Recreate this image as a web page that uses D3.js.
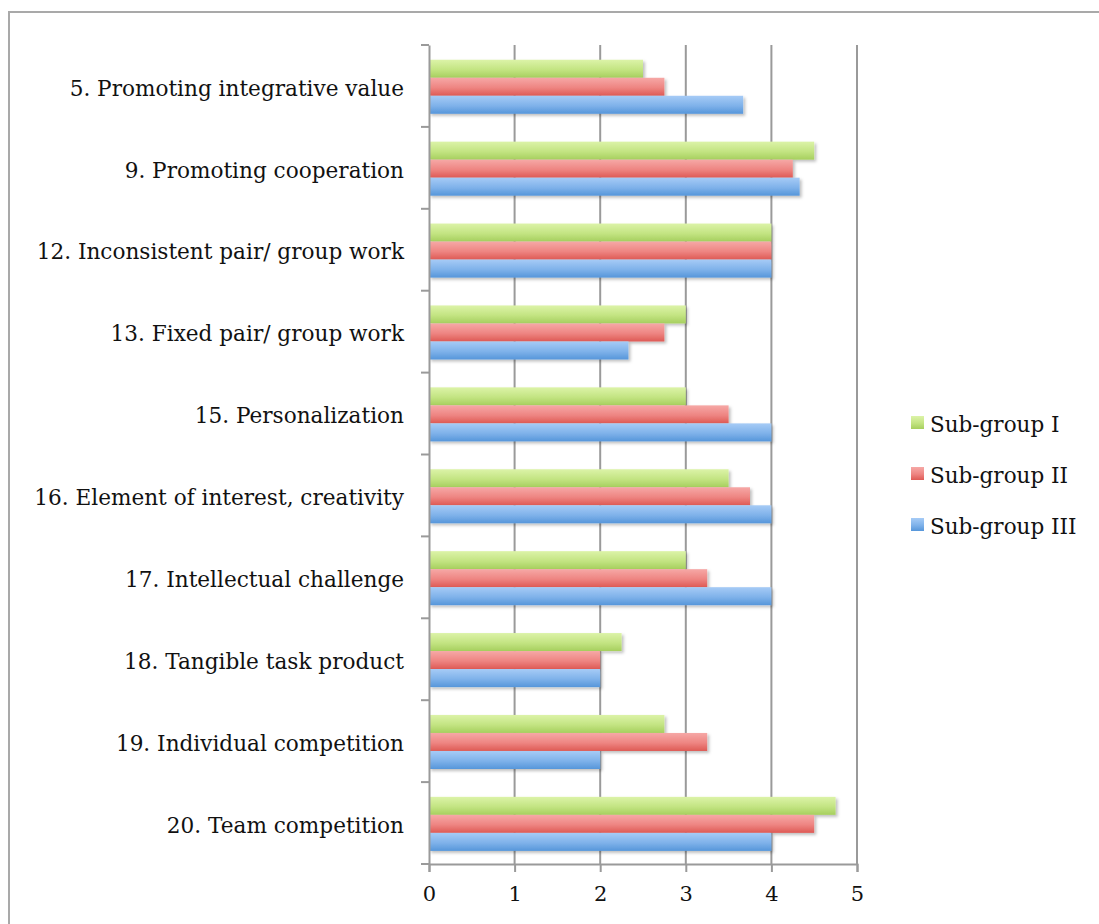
<!DOCTYPE html>
<html>
<head>
<meta charset="utf-8">
<script src="https://cdn.jsdelivr.net/npm/d3@7"></script>
<style>
  body { margin: 0; background: #fff; }
  text { font-family: "DejaVu Serif", "Liberation Serif", serif; fill: #111; }
</style>
</head>
<body>
<div id="chart"></div>
<script>
// Categories (top to bottom)
const categories = [
  "5. Promoting integrative value",
  "9. Promoting cooperation",
  "12. Inconsistent pair/ group work",
  "13. Fixed pair/ group work",
  "15. Personalization",
  "16. Element of interest, creativity",
  "17. Intellectual challenge",
  "18. Tangible task product",
  "19. Individual competition",
  "20. Team competition"
];
const seriesNames = ["Sub-group I", "Sub-group II", "Sub-group III"];
const subGroup1 = [2.5, 4.5, 4, 3, 3, 3.5, 3, 2.25, 2.75, 4.75];
const subGroup2 = [2.75, 4.25, 4, 2.75, 3.5, 3.75, 3.25, 2, 3.25, 4.5];
const subGroup3 = [3.67, 4.33, 4, 2.33, 4, 4, 4, 2, 2, 4];
const xTicks = [0, 1, 2, 3, 4, 5];

const series = [subGroup1, subGroup2, subGroup3];
const colors = [
  {top: "#dcf3a8", bottom: "#a6cf5e", mid: "#c3e482"},
  {top: "#f6a8a6", bottom: "#de5a55", mid: "#ee8582"},
  {top: "#a6cbf6", bottom: "#5696da", mid: "#7fb2ea"}
];

const W = 1099, H = 924;
const margin = {top: 45, right: 242, bottom: 60, left: 429};
const width = W - margin.left - margin.right,
      height = H - margin.top - margin.bottom;

const root = d3.select("#chart").append("svg")
    .attr("width", W)
    .attr("height", H);

const defs = root.append("defs");
colors.forEach((c, i) => {
  const g = defs.append("linearGradient")
      .attr("id", "grad" + i)
      .attr("x1", 0).attr("y1", 0).attr("x2", 0).attr("y2", 1);
  g.append("stop").attr("offset", "0%").attr("stop-color", c.top);
  g.append("stop").attr("offset", "55%").attr("stop-color", c.mid);
  g.append("stop").attr("offset", "100%").attr("stop-color", c.bottom);
});
const shadow = defs.append("filter").attr("id", "shadow")
    .attr("x", "-5%").attr("y", "-20%").attr("width", "115%").attr("height", "160%");
shadow.append("feDropShadow")
    .attr("dx", 2).attr("dy", 2).attr("stdDeviation", 1.5)
    .attr("flood-color", "#000").attr("flood-opacity", 0.25);

// outer frame
root.append("rect")
    .attr("x", 9).attr("y", 12)
    .attr("width", W + 10).attr("height", H + 10)
    .attr("fill", "none")
    .attr("stroke", "#a9a9a9")
    .attr("stroke-width", 2);

const svg = root.append("g")
    .attr("transform", `translate(${margin.left},${margin.top})`);

const x = d3.scaleLinear().domain([0, 5]).range([0, width]);
const y = d3.scaleBand().domain(categories).range([0, height]);
const ySub = d3.scaleBand().domain(d3.range(3))
    .range([y.bandwidth() * 0.18, y.bandwidth() * 0.84]);

// vertical gridlines
svg.append("g")
  .selectAll("line")
  .data(xTicks.slice(1))
  .join("line")
    .attr("x1", d => x(d)).attr("x2", d => x(d))
    .attr("y1", 0).attr("y2", height)
    .attr("stroke", "#9a9a9a")
    .attr("stroke-width", 2);

// bars
const groups = svg.append("g")
  .selectAll("g")
  .data(categories)
  .join("g")
    .attr("transform", d => `translate(0,${y(d)})`);

groups.selectAll("rect")
  .data((d, i) => series.map((s, k) => ({k, v: s[i]})))
  .join("rect")
    .attr("x", 0)
    .attr("y", d => ySub(d.k))
    .attr("width", d => x(d.v))
    .attr("height", ySub.bandwidth())
    .attr("fill", d => `url(#grad${d.k})`)
    .attr("filter", "url(#shadow)");

// y axis
const yAxis = svg.append("g")
    .call(d3.axisLeft(y).tickSize(0).tickPadding(25));
yAxis.select(".domain").attr("stroke", "#9a9a9a").attr("stroke-width", 2);
yAxis.selectAll("text")
    .attr("font-size", 21.6)
    .attr("dy", "0.45em")
    .style("font-family", "'DejaVu Serif', serif");
// category separator ticks
svg.append("g")
  .selectAll("line")
  .data(d3.range(categories.length + 1))
  .join("line")
    .attr("x1", -8).attr("x2", 0)
    .attr("y1", i => i * y.step()).attr("y2", i => i * y.step())
    .attr("stroke", "#9a9a9a")
    .attr("stroke-width", 2);

// x axis
const xAxis = svg.append("g")
    .attr("transform", `translate(0,${height})`)
    .call(d3.axisBottom(x).tickValues(xTicks).tickFormat(d3.format("d")).tickSize(8).tickPadding(14));
xAxis.select(".domain").attr("stroke", "#9a9a9a").attr("stroke-width", 2);
xAxis.selectAll(".tick line").attr("stroke", "#9a9a9a").attr("stroke-width", 2);
xAxis.selectAll("text")
    .attr("font-size", 21)
    .style("font-family", "'DejaVu Serif', serif");

// legend
const legend = root.append("g")
    .attr("transform", "translate(911,416)");
const item = legend.selectAll("g")
  .data(seriesNames)
  .join("g")
    .attr("transform", (d, i) => `translate(0,${i * 51})`);
item.append("rect")
    .attr("width", 13).attr("height", 13)
    .attr("fill", (d, i) => `url(#grad${i})`);
item.append("text")
    .attr("x", 19).attr("y", 7)
    .attr("dy", "0.4em")
    .attr("font-size", 21.5)
    .text(d => d);
</script>
</body>
</html>
